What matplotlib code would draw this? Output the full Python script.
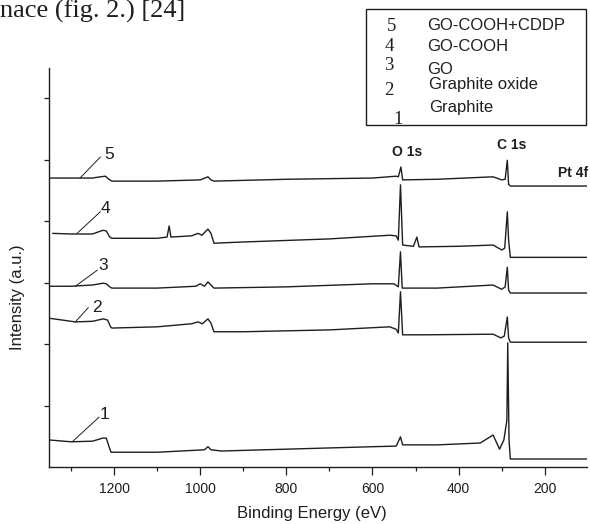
import matplotlib
matplotlib.use("Agg")
import matplotlib.pyplot as plt
from matplotlib.patches import Rectangle

INK = "#1E1E1E"
plt.rcParams.update({
    "font.family": "sans-serif",
    "font.sans-serif": ["Liberation Sans", "DejaVu Sans"],
    "text.color": INK, "axes.edgecolor": INK,
    "xtick.color": INK, "ytick.color": INK,
})

# XPS survey spectra, binding energy (eV) vs intensity (a.u., offset per curve)
E1 = [1351, 1300, 1250, 1226, 1218, 1212, 1207, 1100, 990, 982, 975, 950, 800, 600,
      545, 535, 530, 450, 350, 320, 305, 295, 288, 286, 283, 280, 103]
I1 = [0.44, 0.41, 0.42, 0.47, 0.47, 0.34, 0.24, 0.24, 0.28, 0.33, 0.28, 0.26, 0.29, 0.33,
      0.34, 0.49, 0.36, 0.36, 0.39, 0.52, 0.29, 0.44, 0.76, 2.02, 0.44, 0.13, 0.13]

E2 = [1351, 1320, 1290, 1250, 1225, 1215, 1208, 1205, 1100, 1020, 1005, 995, 982, 975, 968,
      900, 700, 560, 545, 540, 535, 530, 480, 320, 302, 294, 287, 284, 280, 103]
I2 = [2.42, 2.39, 2.36, 2.37, 2.41, 2.39, 2.28, 2.26, 2.28, 2.33, 2.36, 2.33, 2.41, 2.34, 2.20,
      2.20, 2.23, 2.28, 2.24, 2.18, 2.85, 2.15, 2.15, 2.16, 2.10, 2.13, 2.44, 2.10, 2.03, 2.03]

E3 = [1351, 1300, 1250, 1225, 1218, 1210, 1205, 1100, 1010, 1000, 990, 982, 975, 968,
      800, 600, 550, 540, 535, 531, 450, 320, 300, 292, 287, 284, 280, 103]
I3 = [2.94, 2.94, 2.96, 2.99, 2.98, 2.93, 2.91, 2.91, 2.94, 2.98, 2.94, 3.01, 2.96, 2.91,
      2.93, 2.98, 2.98, 2.93, 3.50, 2.91, 2.91, 2.96, 2.89, 2.93, 3.25, 2.88, 2.83, 2.83]

E4 = [1342, 1300, 1250, 1226, 1218, 1210, 1205, 1100, 1077, 1072, 1068, 1020, 1005, 996, 982,
      975, 968, 900, 700, 560, 545, 540, 535, 530, 505, 497, 492, 400, 320, 300, 293, 287,
      284, 280, 103]
I4 = [3.80, 3.79, 3.79, 3.85, 3.84, 3.74, 3.72, 3.72, 3.74, 3.92, 3.74, 3.76, 3.80, 3.77, 3.87,
      3.80, 3.64, 3.66, 3.71, 3.77, 3.76, 3.69, 4.59, 3.61, 3.59, 3.74, 3.58, 3.59, 3.61, 3.53,
      3.56, 4.15, 3.69, 3.41, 3.41]

E5 = [1351, 1300, 1250, 1232, 1220, 1212, 1205, 1100, 1000, 982, 975, 968, 800, 600,
      545, 540, 534, 530, 450, 320, 300, 292, 287, 284, 280, 103]
I5 = [4.70, 4.70, 4.70, 4.72, 4.73, 4.68, 4.65, 4.65, 4.67, 4.72, 4.67, 4.65, 4.68, 4.70,
      4.73, 4.72, 4.88, 4.67, 4.68, 4.72, 4.67, 4.68, 4.99, 4.60, 4.57, 4.57]

SAMPLES = ["GO-COOH+CDDP", "GO-COOH", "GO", "Graphite oxide", "Graphite"]
SAMPLE_NUMS = ["5", "4", "3", "2", "1"]
CURVE_NUMS = ["1", "2", "3", "4", "5"]
# leader lines: (start E, start I, end E, end I, label E, label I)
LEADERS = [(1297, 0.41, 1235, 0.81, 1223, 0.85),
           (1290, 2.36, 1260, 2.59, 1239, 2.60),
           (1290, 2.94, 1239, 3.20, 1226, 3.28),
           (1286, 3.80, 1232, 4.15, 1221, 4.20),
           (1279, 4.70, 1232, 5.04, 1212, 5.09)]
PEAKS = [("O 1s", 520, 5.12), ("C 1s", 277, 5.24), ("Pt 4f", 135, 4.78)]

fig = plt.figure(figsize=(5.9, 5.24), dpi=100)
ax = fig.add_axes([49 / 590, 57 / 524, 538 / 590, 399 / 524])

for E, I in [(E1, I1), (E2, I2), (E3, I3), (E4, I4), (E5, I5)]:
    ax.plot(E, I, color=INK, lw=1.0)

for num, (x0, y0, x1, y1, tx, ty) in zip(CURVE_NUMS, LEADERS):
    ax.plot([x0, x1], [y0, y1], color=INK, lw=0.7)
    ax.text(tx, ty, num, ha="center", va="center", fontsize=12.5, color=INK)

for lab, x, y in PEAKS:
    ax.text(x, y, lab, ha="center", va="center", fontsize=10, fontweight="bold",
            clip_on=False)

ax.set_xlim(1351, 102)
ax.set_ylim(0, 6.49)
ax.set_xticks([1200, 1000, 800, 600, 400, 200])
ax.set_xticks([1300, 1100, 900, 700, 500, 300], minor=True)
ax.set_yticks([1, 2, 3, 4, 5, 6])
ax.set_yticklabels([])
ax.tick_params(axis="x", which="major", direction="out", length=5.5, width=0.9,
               labelsize=10, pad=5)
ax.tick_params(axis="x", which="minor", direction="out", length=3, width=0.9)
ax.tick_params(axis="y", direction="out", length=3.6, width=0.9)
for sp in ("top", "right"):
    ax.spines[sp].set_visible(False)
for sp in ("left", "bottom"):
    ax.spines[sp].set_linewidth(1.0)

fig.text(312 / 590, 1 - 518 / 524, "Binding Energy (eV)", ha="center", va="baseline",
         fontsize=12)
fig.text(18 / 590, 1 - 297 / 524, "Intensity (a.u.)", ha="center", va="center",
         rotation=90, fontsize=12)

# legend box with numbered samples
fig.add_artist(Rectangle((366 / 590, 1 - 125 / 524), 220 / 590, 116 / 524,
                         transform=fig.transFigure, fill=False, lw=1.0, ec=INK))
num_x = [392, 389, 389, 389, 398]
num_base = [31, 51, 70, 95, 124]
name_x = [427, 427, 427, 429, 429]
name_base = [30, 51, 74, 89, 112]
for i, (n, s) in enumerate(zip(SAMPLE_NUMS, SAMPLES)):
    fig.text(num_x[i] / 590, 1 - num_base[i] / 524, n, ha="center", va="baseline",
             fontsize=13.5, family="Liberation Serif")
    fig.text(name_x[i] / 590, 1 - name_base[i] / 524, s, ha="left", va="baseline",
             fontsize=12)

# line of body text above the figure
fig.text(0, 1 - 18 / 524, "nace (fig. 2.) [24]", ha="left", va="baseline",
         fontsize=19, family="Liberation Serif")

fig.savefig("out.png", dpi=100)
